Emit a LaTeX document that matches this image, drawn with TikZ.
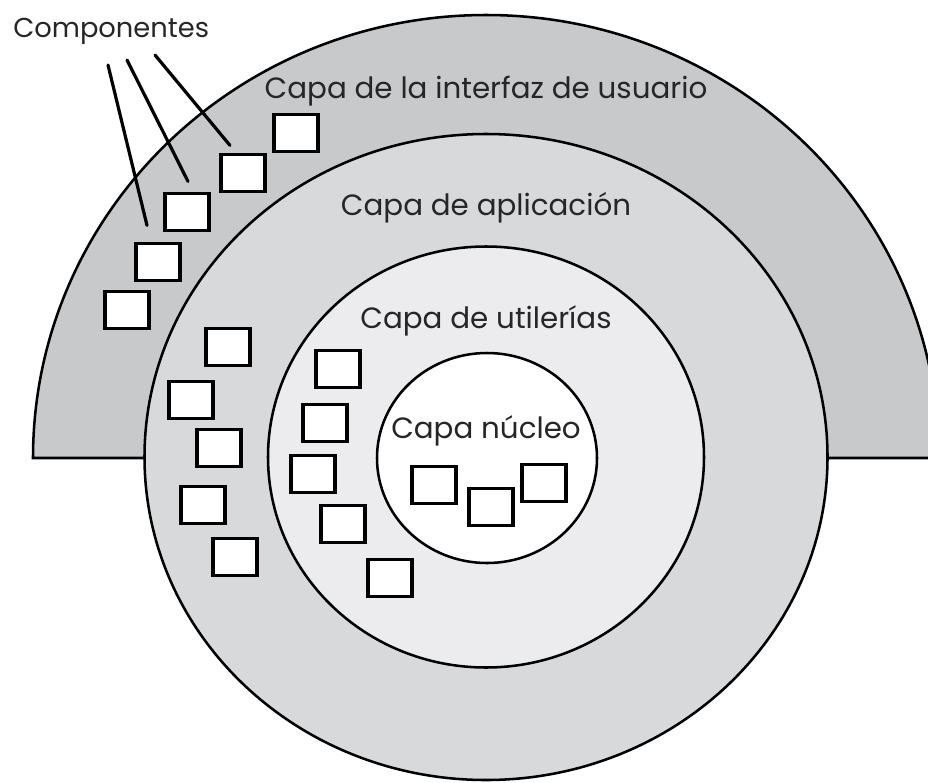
\documentclass[tikz,border=0pt]{standalone}
\usepackage{fontspec}
\setmainfont{Poppins}
\usetikzlibrary{positioning}

\definecolor{uigray}{HTML}{C8C9CB}
\definecolor{appgray}{HTML}{D8D9DB}
\definecolor{utilgray}{HTML}{ECECEE}

\begin{document}
\begin{tikzpicture}[
        x=0.75pt, y=-0.75pt,
        layer/.style={draw=black, line width=1.9pt},
        comp/.style={rectangle, draw=black, fill=white, line width=2.4pt, inner sep=0pt, minimum width=33pt, minimum height=27.75pt},
        lbl/.style={anchor=base, inner sep=0pt, text=black!85, font=\fontsize{22}{26}\selectfont},
        lead/.style={line width=2.4pt, line cap=round}
    ]
    \useasboundingbox (0,0) rectangle (928,782);
    \clip (0,0) rectangle (928,782);
    % layers
    \draw[layer, fill=uigray] (33,458) arc[start angle=180, end angle=360, x radius=453, y radius=443] -- cycle;
    \draw[layer, fill=appgray] (486,457) ellipse[x radius=341.5, y radius=323];
    \draw[layer, fill=utilgray] (486,457) ellipse[x radius=218, y radius=210.5];
    \draw[layer, fill=white] (487,458) ellipse[x radius=110, y radius=105];
    % layer names
    \node[lbl] (ui) at (486,98) {Capa de la interfaz de usuario};
    \node[lbl] (app) at (486,215) {Capa de aplicación};
    \node[lbl] (util) at (486,328) {Capa de utilerías};
    \node[lbl] (core) at (486,438) {Capa núcleo};
    \node[lbl, anchor=base west, font=\fontsize{20.5}{24}\selectfont] (comp) at (13,37) {Componentes};
    % components
    \node[comp] (ui1) at (296,133) {};
    \node[comp] (ui2) at (243,173) {};
    \node[comp] (ui3) at (187,212) {};
    \node[comp] (ui4) at (158,262) {};
    \node[comp] (ui5) at (127,310) {};
    \node[comp] (app1) at (228,347) {};
    \node[comp] (app2) at (191,400) {};
    \node[comp] (app3) at (219,448) {};
    \node[comp] (app4) at (203,505) {};
    \node[comp] (app5) at (235,557) {};
    \node[comp] (ut1) at (338,369) {};
    \node[comp] (ut2) at (325,423) {};
    \node[comp] (ut3) at (313,474) {};
    \node[comp] (ut4) at (343,524) {};
    \node[comp] (ut5) at (390,578) {};
    \node[comp] (core1) at (434,485) {};
    \node[comp] (core2) at (491,507) {};
    \node[comp] (core3) at (544,483) {};
    % leads
    \draw[lead] ([shift={(95,28)}]comp.base west) -- ([shift={(-11,-16.5)}]ui4.north);
    \draw[lead] ([shift={(114,23)}]comp.base west) -- ([shift={(1,-10.5)}]ui3.north);
    \draw[lead] ([shift={(142,18)}]comp.base west) -- ([shift={(-13,-7.5)}]ui2.north);
\end{tikzpicture}
\end{document}
